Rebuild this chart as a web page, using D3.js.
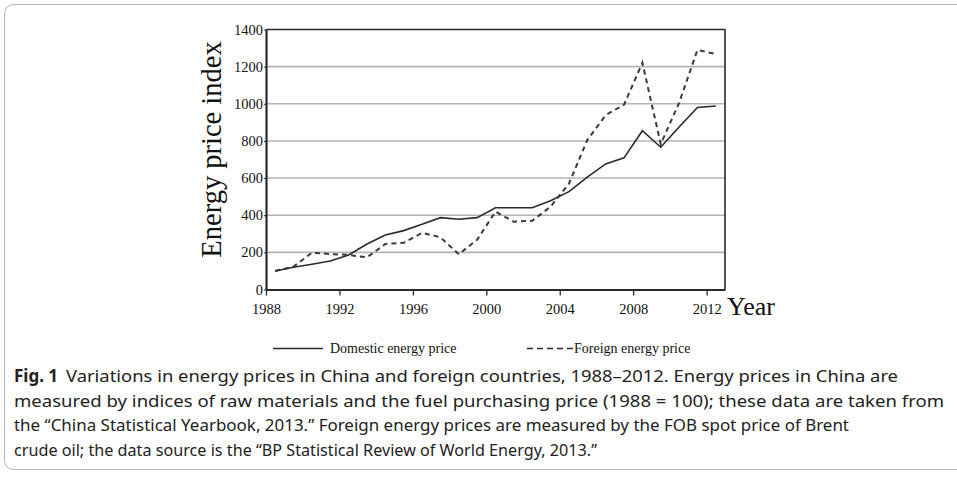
<!DOCTYPE html>
<html>
<head>
<meta charset="utf-8">
<script src="https://cdn.jsdelivr.net/npm/d3@7"></script>
<style>
  body { margin: 0; background: #fff; }
  svg { display: block; }
</style>
</head>
<body>
<div id="chart"></div>
<script>
// values (index, 1988 = 100)
const years = [1988, 1989, 1990, 1991, 1992, 1993, 1994, 1995, 1996, 1997, 1998, 1999, 2000,
               2001, 2002, 2003, 2004, 2005, 2006, 2007, 2008, 2009, 2010, 2011, 2012];
const domestic = [100, 120, 136, 153, 186, 245, 293, 317, 351, 387, 378, 387, 440,
                  440, 440, 478, 527, 605, 676, 709, 855, 766, 875, 980, 988];
const foreign = [100, 123, 198, 191, 186, 173, 245, 252, 305, 281, 190, 268, 419,
                 365, 370, 446, 570, 805, 939, 995, 1221, 783, 1005, 1290, 1268];
const xTicks = [1988, 1992, 1996, 2000, 2004, 2008, 2012];
const yTicks = [0, 200, 400, 600, 800, 1000, 1200, 1400];
const captionLines = [
  "Variations in energy prices in China and foreign countries, 1988\u20132012. Energy prices in China are",
  "measured by indices of raw materials and the fuel purchasing price (1988 = 100); these data are taken from",
  "the \u201cChina Statistical Yearbook, 2013.\u201d Foreign energy prices are measured by the FOB spot price of Brent",
  "crude oil; the data source is the \u201cBP Statistical Review of World Energy, 2013.\u201d"
];

const width = 957;
const height = 478;
const serif = "'Liberation Serif', 'Times New Roman', serif";
const sans = "'Liberation Sans Narrow', 'Noto Sans', sans-serif";
const ink = "#2a2a2a";

const svg = d3.select("#chart").append("svg")
  .attr("width", width)
  .attr("height", height);

// outer figure frame
svg.append("rect")
  .attr("x", 4.5).attr("y", 4.5)
  .attr("width", 970).attr("height", 465)
  .attr("rx", 9)
  .attr("fill", "none")
  .attr("stroke", "#b5b5b5")
  .attr("stroke-width", 1);

const x = d3.scaleLinear().domain([1988, 2013]).range([266, 725]);
const y = d3.scaleLinear().domain([0, 1400]).range([289.5, 29.5]);

// gridlines
svg.append("g")
  .selectAll("line")
  .data(yTicks.filter(d => d > 0 && d < 1400))
  .join("line")
  .attr("x1", x(1988)).attr("x2", x(2013))
  .attr("y1", d => y(d)).attr("y2", d => y(d))
  .attr("stroke", "#b4b4b4")
  .attr("stroke-width", 1.6);

// top / right frame
svg.append("path")
  .attr("d", `M${x(1988)},${y(1400)}H${x(2013)}V${y(0)}`)
  .attr("fill", "none")
  .attr("stroke", ink)
  .attr("stroke-width", 1.6);

const xAxis = svg.append("g")
  .attr("transform", `translate(0,${y(0)})`)
  .call(d3.axisBottom(x).tickValues(xTicks).tickFormat(d3.format("d")).tickSize(6).tickSizeOuter(0));
xAxis.select(".domain").attr("stroke", ink).attr("stroke-width", 2.2);
xAxis.selectAll(".tick line").attr("stroke", ink).attr("stroke-width", 1.3);
xAxis.selectAll(".tick text")
  .attr("font-family", serif).attr("font-size", 14.5).attr("fill", "#111")
  .attr("dy", "1.05em");

const yAxis = svg.append("g")
  .attr("transform", `translate(${x(1988)},0)`)
  .call(d3.axisLeft(y).tickValues(yTicks).tickFormat(d3.format("d")).tickSize(2).tickSizeOuter(0));
yAxis.select(".domain").attr("stroke", ink).attr("stroke-width", 2.2);
yAxis.selectAll(".tick line").attr("stroke", ink);
yAxis.selectAll(".tick text")
  .attr("font-family", serif).attr("font-size", 14.5).attr("fill", "#111")
  .attr("x", -3);

// axis titles
svg.append("text")
  .attr("transform", `translate(221,${(y(0) + y(1400)) / 2 - 10}) rotate(-90)`)
  .attr("text-anchor", "middle")
  .attr("font-family", serif).attr("font-size", 28.5).attr("fill", "#111")
  .text("Energy price index");

svg.append("text")
  .attr("x", 727).attr("y", 315)
  .attr("font-family", serif).attr("font-size", 26).attr("fill", "#111")
  .text("Year");

// series
const line = d3.line()
  .x((d, i) => x(years[i] + 0.5))
  .y(d => y(d));

svg.append("path")
  .datum(foreign)
  .attr("d", line)
  .attr("fill", "none")
  .attr("stroke", "#3a3a3a")
  .attr("stroke-width", 2)
  .attr("stroke-dasharray", "5,4");

svg.append("path")
  .datum(domestic)
  .attr("d", line)
  .attr("fill", "none")
  .attr("stroke", ink)
  .attr("stroke-width", 1.6);

// legend
const legend = svg.append("g").attr("font-family", serif).attr("font-size", 14).attr("fill", "#111");
legend.append("line")
  .attr("x1", 273).attr("x2", 323).attr("y1", 348.5).attr("y2", 348.5)
  .attr("stroke", ink).attr("stroke-width", 1.6);
legend.append("text").attr("x", 330).attr("y", 353).text("Domestic energy price");
legend.append("line")
  .attr("x1", 527).attr("x2", 573).attr("y1", 348.5).attr("y2", 348.5)
  .attr("stroke", ink).attr("stroke-width", 1.6)
  .attr("stroke-dasharray", "6,4");
legend.append("text").attr("x", 574).attr("y", 353).text("Foreign energy price");

// caption
const caption = svg.append("g").attr("font-family", sans).attr("font-size", 17).attr("fill", "#222");
caption.append("text")
  .attr("x", 14).attr("y", 382)
  .attr("font-weight", "bold")
  .text("Fig. 1");
const captionX = [66, 14, 14, 14];
const captionW = [832, 930, 835, 583];
caption.selectAll("text.line")
  .data(captionLines)
  .join("text")
  .attr("class", "line")
  .attr("x", (d, i) => captionX[i])
  .attr("y", (d, i) => 382 + i * 24.6)
  .attr("textLength", (d, i) => captionW[i])
  .attr("lengthAdjust", "spacingAndGlyphs")
  .text(d => d);
</script>
</body>
</html>
